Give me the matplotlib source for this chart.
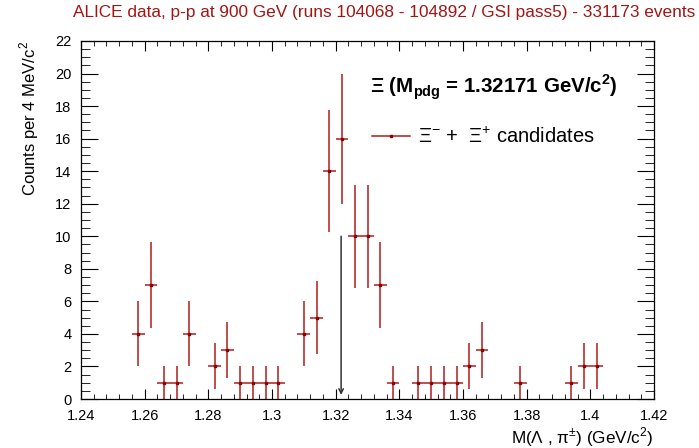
import numpy as np
import matplotlib
matplotlib.use("Agg")
from matplotlib import pyplot as plt
from matplotlib.lines import Line2D
from matplotlib.ticker import MultipleLocator

plt.rcParams['font.family'] = ['Liberation Sans', 'DejaVu Sans']
plt.rcParams['mathtext.fontset'] = 'custom'
plt.rcParams['mathtext.rm'] = 'Liberation Sans'
plt.rcParams['mathtext.bf'] = 'Liberation Sans:bold'

# bin centres (GeV/c^2), 4 MeV bins, and counts per bin
mass = [1.258, 1.262, 1.266, 1.270, 1.274, 1.282, 1.286, 1.290, 1.294, 1.298,
        1.302, 1.310, 1.314, 1.318, 1.322, 1.326, 1.330, 1.334, 1.338, 1.346,
        1.350, 1.354, 1.358, 1.362, 1.366, 1.378, 1.394, 1.398, 1.402]
counts = [4, 7, 1, 1, 4, 2, 3, 1, 1, 1,
          1, 4, 5, 14, 16, 10, 10, 7, 1, 1,
          1, 1, 1, 2, 3, 1, 1, 2, 2]
bin_width = 0.004
m_pdg = 1.32171

title = "ALICE data, p-p at 900 GeV (runs 104068 - 104892 / GSI pass5) - 331173 events"
xticklabels = ['1.24', '1.26', '1.28', '1.3', '1.32', '1.34', '1.36', '1.38', '1.4', '1.42']

red = '#b01c1c'
dark_red = '#8b0000'

fig = plt.figure(figsize=(6.99, 4.48), dpi=100)
ax = fig.add_axes([81 / 699, 1 - 399 / 448, (654 - 81) / 699, (399 - 41) / 448])

counts = np.array(counts, dtype=float)
ax.errorbar(mass, counts, xerr=bin_width / 2, yerr=np.sqrt(counts),
            fmt='s', ms=2, color=red, mfc=dark_red, mec=dark_red,
            elinewidth=1.1, capsize=0)

ax.annotate('', xy=(m_pdg, 0.25), xytext=(m_pdg, 10),
            arrowprops=dict(arrowstyle='->', color='#333333', lw=1.1,
                            mutation_scale=8, shrinkA=0, shrinkB=0))

ax.set_xlim(1.24, 1.42)
ax.set_ylim(0, 22)
ax.xaxis.set_minor_locator(MultipleLocator(0.004))
ax.yaxis.set_major_locator(MultipleLocator(2))
ax.yaxis.set_minor_locator(MultipleLocator(0.5))
ax.set_xticks(np.linspace(1.24, 1.42, len(xticklabels)))
ax.set_xticklabels(xticklabels)

ax.tick_params(which='both', direction='in', top=True, right=True, labelsize=10.5)
ax.tick_params(axis='x', which='major', length=7, pad=7)
ax.tick_params(axis='x', which='minor', length=3.5)
ax.tick_params(axis='y', which='major', length=12.5, pad=7)
ax.tick_params(axis='y', which='minor', length=6.3)
for sp in ax.spines.values():
    sp.set_linewidth(0.9)

ax.set_ylabel('Counts per 4 MeV/c$^{\\mathregular{2}}$', fontsize=12, loc='top', labelpad=10)
ax.set_xlabel('M(\u039b , \u03c0$^{\\mathregular{\u00b1}}$) (GeV/c$^{\\mathregular{2}}$)',
              fontsize=12.3, loc='right', labelpad=2)

fig.text(384 / 699, 0.971, title, color='#a31515', fontsize=12.4, ha='center', va='center')

# legend header and entry
ax.text((370 - 81) / 573, (399 - 87) / 358,
        '\u039e (M$_{\\mathbf{pdg}}$ = 1.32171 GeV/c$^{\\mathbf{2}}$)',
        transform=ax.transAxes, fontsize=14.8, fontweight='bold', ha='left', va='center')
handle = Line2D([], [], color=red, marker='s', ms=2, mfc=dark_red, mec=dark_red, lw=1.1)
ax.legend([handle], ['\u039e$^{\\mathregular{-}}$ +  \u039e$^{\\mathregular{+}}$ candidates'],
          loc='center left', bbox_to_anchor=((372 - 81) / 573, (399 - 137) / 358),
          frameon=False, fontsize=14.5, handlelength=1.9, handletextpad=0.4,
          borderpad=0, borderaxespad=0)

fig.savefig('out.png', dpi=100)
